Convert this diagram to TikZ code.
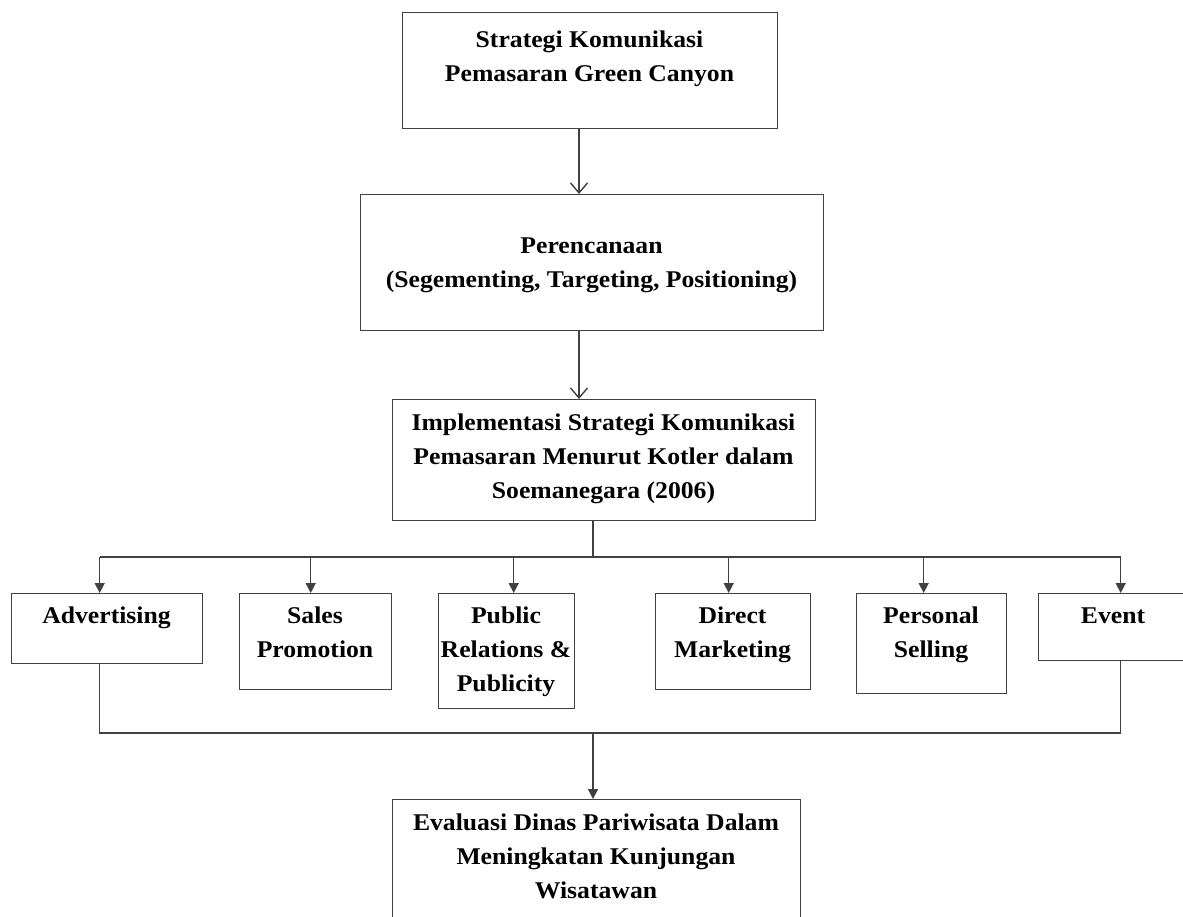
\documentclass[tikz,border=0pt]{standalone}
\usepackage{fontspec}
\setmainfont{Liberation Serif}[FakeStretch=1.07]
\usetikzlibrary{arrows.meta,decorations.pathmorphing}
\newcommand\txtfont{\fontsize{24}{34}\selectfont\bfseries}
\newcommand\fs{\rule{0pt}{18pt}}
\newlength\Lw \newlength\Pw \newlength\Ww
% #1 line centre x, #2 baseline y, #3 whole line, #4 text before the word, #5 word
\newcommand\wave[5]{\settowidth\Lw{\txtfont #3}\settowidth\Pw{\txtfont #4}\settowidth\Ww{\txtfont #5}%
  \draw[sqg] ({#1pt-0.5\Lw+\Pw},{-#2pt-5pt}) -- ++(\Ww,0pt);}
\begin{document}
\begin{tikzpicture}[x=1pt,y=-1pt,
  box/.style={draw=black!75, line width=1.4pt, rectangle, inner sep=0pt, anchor=north west},
  txt/.style={font=\txtfont, align=center, inner sep=0pt, anchor=north},
  conn/.style={draw=black!75, line width=1.4pt},
  openarr/.style={conn, -{Straight Barb[length=10pt,width=17pt,line width=1.4pt]}},
  triarr/.style={conn, -{Triangle[length=10pt,width=10pt]}},
  sqg/.style={red, line width=0.7pt, decorate, decoration={snake, amplitude=1.2pt, segment length=4pt}}
]
\path[use as bounding box, clip] (0,0) rectangle (1183,916);
\fill[white] (0,0) rectangle (1183,916);

% main column boxes
\node[box, minimum width=375pt, minimum height=116pt] (b1) at (402,12) {};
\node[box, minimum width=463pt, minimum height=136pt] (b2) at (360,194) {};
\node[box, minimum width=423pt, minimum height=121pt] (b3) at (392,399) {};
\node[box, minimum width=408pt, minimum height=140pt] (b4) at (392,799) {};

\node[txt] (t1) at (589.5,29) {\fs Strategi Komunikasi\\ Pemasaran Green Canyon};
\node[txt] (t2) at (591.5,235) {\fs Perencanaan\\ (Segementing, Targeting, Positioning)};
\node[txt] (t3) at (603.5,412) {\fs Implementasi Strategi Komunikasi\\ Pemasaran Menurut Kotler dalam\\ Soemanegara (2006)};
\node[txt] (t4) at (596,812) {\fs Evaluasi Dinas Pariwisata Dalam\\ Meningkatan Kunjungan\\ Wisatawan};

% red spelling squiggles
\wave{589.5}{47}{Strategi Komunikasi}{Strategi }{Komunikasi}
\wave{589.5}{81}{Pemasaran Green Canyon}{}{Pemasaran}
\wave{591.5}{253}{Perencanaan}{}{Perencanaan}
\wave{603.5}{430}{Implementasi Strategi Komunikasi}{}{Implementasi}
\wave{603.5}{430}{Implementasi Strategi Komunikasi}{Implementasi Strategi }{Komunikasi}
\wave{603.5}{464}{Pemasaran Menurut Kotler dalam}{}{Pemasaran}
\wave{596}{830}{Evaluasi Dinas Pariwisata Dalam}{}{Evaluasi}
\wave{596}{830}{Evaluasi Dinas Pariwisata Dalam}{Evaluasi Dinas }{Pariwisata}
\wave{596}{830}{Evaluasi Dinas Pariwisata Dalam}{Evaluasi Dinas Pariwisata }{Dalam}

% row of boxes
\node[box, minimum width=191pt, minimum height=70pt] (adv) at (11,593) {};
\node[box, minimum width=152pt, minimum height=96pt] (sal) at (239,593) {};
\node[box, minimum width=136pt, minimum height=115pt] (pr) at (438,593) {};
\node[box, minimum width=155pt, minimum height=96pt] (dm) at (655,593) {};
\node[box, minimum width=150pt, minimum height=100pt] (ps) at (856,593) {};
\node[box, minimum width=150pt, minimum height=67pt] (ev) at (1038,593) {};

\node[txt] (tadv) at (106.5,605) {\fs Advertising};
\node[txt] (tsal) at (315,605) {\fs Sales\\ Promotion};
\node[txt] (tpr) at (506,605) {\fs Public\\ Relations \&\\ Publicity};
\node[txt] (tdm) at (732.5,605) {\fs Direct\\ Marketing};
\node[txt] (tps) at (931,605) {\fs Personal\\ Selling};
\node[txt] (tev) at (1113,605) {\fs Event};

% connectors
\coordinate (c1) at (579,0);
\draw[openarr] (b1.south -| c1) -- (b2.north -| c1);
\draw[openarr] (b2.south -| c1) -- (b3.north -| c1);

\coordinate (jx) at (593,557);
\draw[conn] (b3.south -| jx) -- (jx);
\draw[conn] ([xshift=-7.5pt]adv.north |- jx) -- ([xshift=7pt]ev.north |- jx);
\draw[triarr] ([xshift=-7.5pt]adv.north |- jx) -- ([xshift=-7.5pt]adv.north);
\draw[triarr] ([xshift=-5pt]sal.north |- jx) -- ([xshift=-5pt]sal.north);
\draw[triarr] ([xshift=7pt]pr.north |- jx) -- ([xshift=7pt]pr.north);
\draw[triarr] ([xshift=-4.5pt]dm.north |- jx) -- ([xshift=-4.5pt]dm.north);
\draw[triarr] ([xshift=-8pt]ps.north |- jx) -- ([xshift=-8pt]ps.north);
\draw[triarr] ([xshift=7pt]ev.north |- jx) -- ([xshift=7pt]ev.north);

\coordinate (bj) at (593,733);
\draw[conn] ([xshift=-7.5pt]adv.south) |- (bj) -| ([xshift=7pt]ev.south);
\draw[triarr] (bj) -- (b4.north -| bj);
\end{tikzpicture}
\end{document}
